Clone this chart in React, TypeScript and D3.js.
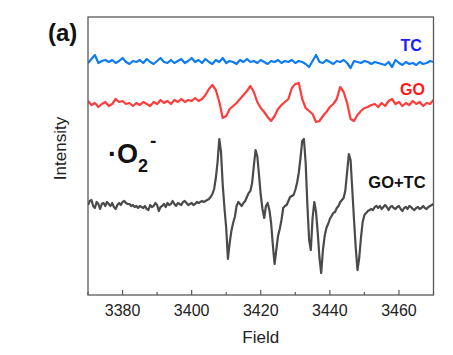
import React from "react";
import * as d3 from "d3";

// Field sampling grids (G)
const fieldFine = d3.range(3370, 3470.001, 0.5);
const fieldCoarse = d3.range(3370, 3470.001, 1);

// GO+TC spectrum (0.5 G step, arbitrary intensity units incl. offset)
const goTc = [
  90, 94, 95, 89, 87, 93, 91, 86, 91, 92,
  89, 93, 91, 89, 92, 88, 86, 90, 92, 90,
  93, 94, 92, 91, 91, 89, 90, 88, 89, 87,
  89, 88, 87, 89, 86, 85, 90, 88, 89, 92,
  90, 84, 88, 89, 91, 88, 92, 90, 91, 94,
  91, 89, 92, 91, 90, 93, 94, 92, 90, 91,
  92, 90, 91, 93, 92, 93, 94, 93, 94, 95,
  96, 98, 101, 106, 117, 133, 156, 143, 110, 87,
  67, 36, 52, 64, 72, 78, 89, 93, 91, 89,
  92, 94, 98, 102, 104, 112, 129, 145, 139, 120,
  100, 86, 77, 89, 92, 85, 72, 50, 31, 45,
  59, 66, 75, 87, 89, 90, 94, 98, 99, 100,
  105, 112, 122, 137, 154, 156, 132, 90, 55, 45,
  77, 93, 83, 62, 37, 22, 45, 59, 67, 71,
  76, 79, 82, 83, 87, 89, 93, 95, 97, 105,
  123, 141, 135, 105, 75, 47, 25, 37, 57, 73,
  80, 82, 84, 85, 86, 85, 88, 89, 87, 89,
  86, 88, 90, 88, 85, 88, 89, 87, 86, 88,
  89, 86, 84, 87, 88, 86, 89, 88, 86, 85,
  87, 88, 86, 87, 89, 87, 86, 88, 89, 90,
  91,
];

// GO spectrum (1 G step)
const go = [
  194, 190, 192, 188, 191, 193, 189, 191, 196, 193,
  194, 191, 192, 189, 192, 190, 193, 191, 189, 193,
  191, 195, 192, 194, 191, 195, 193, 196, 193, 195,
  194, 197, 194, 196, 200, 206, 210, 205, 193, 177,
  179, 186, 189, 192, 196, 200, 204, 209, 203, 193,
  187, 183, 178, 174, 179, 186, 190, 193, 196, 207,
  211, 212, 196, 187, 184, 181, 173, 174, 179, 183,
  188, 191, 196, 208, 203, 192, 176, 174, 180, 184,
  187, 188, 190, 191, 188, 192, 189, 194, 196, 191,
  193, 189, 192, 190, 194, 191, 193, 189, 192, 191,
  195,
];

// TC spectrum (1 G step)
const tc = [
  232, 236, 240, 232, 234, 235, 233, 235, 232, 234,
  237, 233, 231, 234, 233, 235, 232, 236, 233, 231,
  234, 237, 233, 232, 235, 232, 234, 236, 232, 234,
  237, 233, 235, 232, 236, 233, 231, 235, 233, 237,
  232, 234, 233, 231, 235, 233, 236, 233, 234, 232,
  235, 233, 231, 234, 233, 235, 232, 234, 233, 235,
  232, 234, 233, 231, 228, 234, 240, 233, 232, 235,
  233, 231, 234, 233, 235, 232, 227, 234, 233, 232,
  234, 233, 231, 233, 232, 231, 230, 233, 228, 235,
  232, 230, 233, 231, 232, 230, 233, 231, 232, 234,
  233,
];

const xTicks = [3380, 3400, 3420, 3440, 3460];
const xMinorTicks = [3370, 3390, 3410, 3430, 3450, 3470];

const W = 453;
const H = 355;
const M = { left: 88, right: 433.5, top: 17, bottom: 295 };

export default function App() {
  const x = d3.scaleLinear().domain([3370, 3470]).range([M.left, M.right]);
  const y = d3.scaleLinear().domain([0, 278]).range([M.bottom, M.top]);

  const mk = (fields: number[]) =>
    d3
      .line<number>()
      .x((_, i) => x(fields[i]))
      .y((d) => y(d));

  const series = [
    { data: tc, fields: fieldCoarse, color: "#0c7cf0" },
    { data: go, fields: fieldCoarse, color: "#ff3c3c" },
    { data: goTc, fields: fieldFine, color: "#4a4a4a" },
  ];

  const font = "'Liberation Sans', Arial, sans-serif";

  return (
    <svg
      width={W}
      height={H}
      style={{ position: "absolute", left: 0, top: 0, background: "#fff" }}
      fontFamily={font}
    >
      <defs>
        <clipPath id="plotclip">
          <rect x={M.left} y={M.top} width={M.right - M.left} height={M.bottom - M.top} />
        </clipPath>
      </defs>
      <g clipPath="url(#plotclip)">
        {series.map((s, k) => (
          <path
            key={k}
            d={mk(s.fields)(s.data) || ""}
            fill="none"
            stroke={s.color}
            strokeWidth={2.2}
            strokeLinejoin="round"
          />
        ))}
      </g>
      <rect
        x={M.left}
        y={M.top}
        width={M.right - M.left}
        height={M.bottom - M.top}
        fill="none"
        stroke="#5a5a5a"
        strokeWidth={1.3}
      />
      {xTicks.map((t) => (
        <g key={t}>
          <line x1={x(t)} x2={x(t)} y1={M.bottom} y2={M.bottom - 5} stroke="#5a5a5a" strokeWidth={1.2} />
          <text x={x(t)} y={315.5} textAnchor="middle" fontSize={16} fill="#222">
            {t}
          </text>
        </g>
      ))}
      {xMinorTicks.map((t) => (
        <line key={t} x1={x(t)} x2={x(t)} y1={M.bottom} y2={M.bottom - 3} stroke="#5a5a5a" strokeWidth={1.2} />
      ))}
      <text x={x(3420)} y={342.5} textAnchor="middle" fontSize={17} fill="#222">
        Field
      </text>
      <text
        transform={`translate(66,148.5) rotate(-90)`}
        textAnchor="middle"
        fontSize={17}
        fill="#222"
      >
        Intensity
      </text>
      <text x={48} y={40.5} fontSize={24} fontWeight="bold" fill="#111">
        (a)
      </text>
      <text x={400.5} y={50.7} fontSize={16} fontWeight="bold" fill="#1a1aff">
        TC
      </text>
      <text x={400} y={95} fontSize={16} fontWeight="bold" fill="#ff1a1a">
        GO
      </text>
      <text x={368.3} y={187.7} fontSize={16.5} fontWeight="bold" fill="#111">
        GO+TC
      </text>
      <text x={108} y={163.3} fontSize={27} fontWeight="bold" fill="#111">
        ·O
        <tspan fontSize={18} dy={9}>
          2
        </tspan>
        <tspan fontSize={19} dx={2} dy={-25}>
          -
        </tspan>
      </text>
    </svg>
  );
}
